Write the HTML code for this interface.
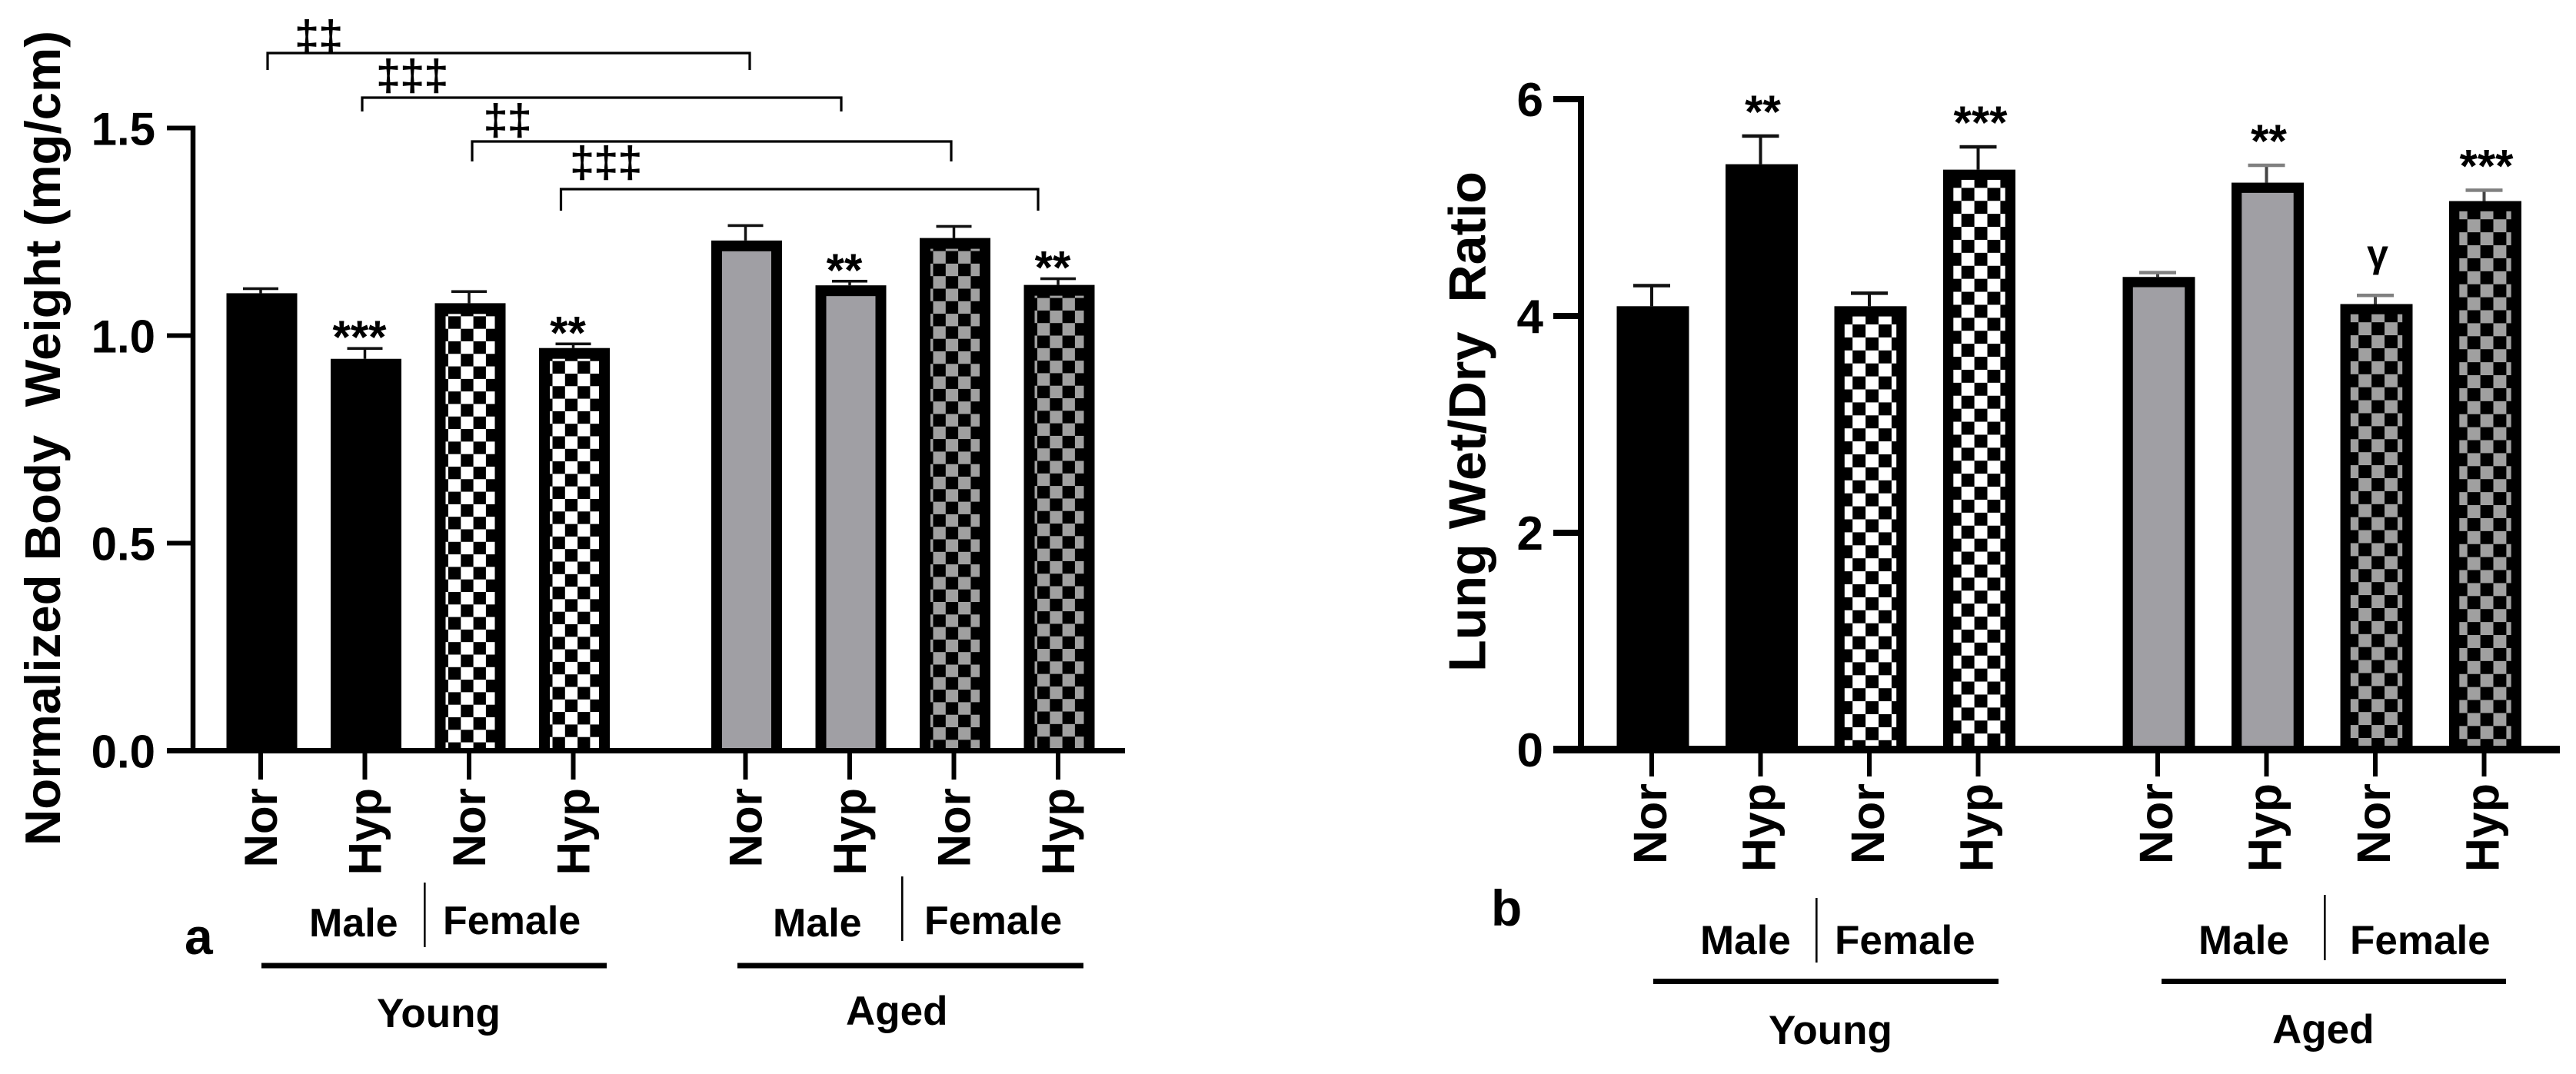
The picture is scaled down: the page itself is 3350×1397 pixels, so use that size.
<!DOCTYPE html>
<html lang="en">
<head>
<meta charset="utf-8">
<title>Normalized body weight and lung wet/dry ratio</title>
<style>
  html, body { margin: 0; padding: 0; background: #fff; }
  svg { display: block; }
  text { font-family: "Liberation Sans", "DejaVu Sans", sans-serif; fill: #000; white-space: pre; }
  .b { font-weight: 700; }
  .dag { stroke: #000; stroke-width: 1; }
</style>
</head>
<body>
<svg id="figure" xmlns="http://www.w3.org/2000/svg" width="3350" height="1397" viewBox="0 0 3350 1397">
  <defs id="patterns"></defs>
  <rect x="0" y="0" width="3350" height="1397" fill="#fff"/>

  <g id="panel-a">
    <text class="b" font-size="65" textLength="1060" lengthAdjust="spacingAndGlyphs" transform="translate(78,1100) rotate(-90)">Normalized Body  Weight (mg/cm)</text>
    <g stroke="#000" stroke-width="3.2" fill="none">
      <path d="M348 91V69H975V91"/>
      <path d="M471 145V127H1094V145"/>
      <path d="M614 210V184H1237V210"/>
      <path d="M729.5 274V246H1350V274"/>
    </g>
    <text class="dag" x="383.5" y="66" font-size="56">‡‡</text>
    <text class="dag" x="489.5" y="117" font-size="56">‡‡‡</text>
    <text class="dag" x="629" y="175" font-size="56">‡‡</text>
    <text class="dag" x="741.5" y="230" font-size="56">‡‡‡</text>

    <text class="b" x="240" y="1241" font-size="66">a</text>
    <text class="b" x="402" y="1218" font-size="52">Male</text>
    <text class="b" x="576" y="1215" font-size="52">Female</text>
    <rect x="551" y="1148" width="2.6" height="84" fill="#000"/>
    <text class="b" x="1005" y="1218" font-size="52">Male</text>
    <text class="b" x="1202" y="1215" font-size="52">Female</text>
    <rect x="1172" y="1140" width="2.6" height="84" fill="#000"/>
    <rect x="340" y="1252.5" width="449" height="7" fill="#000"/>
    <rect x="959" y="1252.5" width="450" height="7" fill="#000"/>
    <text class="b" x="490" y="1336" font-size="53">Young</text>
    <text class="b" x="1100" y="1333" font-size="53">Aged</text>
  </g>

  <g id="panel-b">
    <text class="b" font-size="68" textLength="651" lengthAdjust="spacingAndGlyphs" transform="translate(1931.5,874) rotate(-90)">Lung Wet/Dry  Ratio</text>
    <text class="b" x="1939" y="1204" font-size="66">b</text>
    <text class="b" x="2211" y="1241" font-size="53">Male</text>
    <text class="b" x="2386" y="1241" font-size="53">Female</text>
    <rect x="2361" y="1168" width="2.6" height="84" fill="#000"/>
    <text class="b" x="2859" y="1241" font-size="53">Male</text>
    <text class="b" x="3056" y="1241" font-size="53">Female</text>
    <rect x="3022" y="1164" width="2.6" height="85" fill="#000"/>
    <rect x="2150" y="1273" width="449" height="7" fill="#000"/>
    <rect x="2811" y="1273" width="448" height="7" fill="#000"/>
    <text class="b" x="2300" y="1358" font-size="53">Young</text>
    <text class="b" x="2955" y="1357" font-size="53">Aged</text>
  </g>
</svg>

<script>
// Shared categories
var categories = ['Nor', 'Hyp', 'Nor', 'Hyp', 'Nor', 'Hyp', 'Nor', 'Hyp'];
var sexes = ['Male', 'Male', 'Female', 'Female', 'Male', 'Male', 'Female', 'Female'];
var ages = ['Young', 'Young', 'Young', 'Young', 'Aged', 'Aged', 'Aged', 'Aged'];

// Panel a: normalized body weight
var aValues = [1.102, 0.944, 1.078, 0.970, 1.229, 1.121, 1.235, 1.122];
var aErrors = [0.011, 0.025, 0.028, 0.010, 0.036, 0.010, 0.028, 0.015];
var aSignificance = ['', '***', '', '**', '', '**', '', '**'];
var aTickValues = [0, 0.5, 1, 1.5];
var aTickLabels = ['0.0', '0.5', '1.0', '1.5'];

// Panel b: lung wet/dry ratio
var bValues = [4.09, 5.40, 4.09, 5.35, 4.36, 5.23, 4.11, 5.06];
var bErrors = [0.19, 0.26, 0.12, 0.21, 0.04, 0.16, 0.08, 0.10];
var bSignificance = ['', '**', '', '***', '', '**', 'γ', '***'];
var bTickValues = [0, 2, 4, 6];
var bTickLabels = ['0', '2', '4', '6'];

var NS = 'http://www.w3.org/2000/svg';
var GRAY_SOLID = '#a09fa4';
var GRAY_CHECK = '#a0a0a0';

function make(parent, tag, attrs, text) {
  var node = document.createElementNS(NS, tag);
  for (var k in attrs) node.setAttribute(k, attrs[k]);
  if (text !== undefined) node.textContent = text;
  parent.appendChild(node);
  return node;
}

function checkerPattern(id, fill, firstIsFill, x, y, cell) {
  var p = make(document.getElementById('patterns'), 'pattern', {
    id: id, patternUnits: 'userSpaceOnUse', x: x, y: y, width: cell * 2, height: cell * 2
  });
  make(p, 'rect', { x: 0, y: 0, width: cell * 2, height: cell * 2, fill: fill });
  var a = firstIsFill ? cell : 0;
  var b = firstIsFill ? 0 : cell;
  make(p, 'rect', { x: a, y: 0, width: cell, height: cell, fill: '#000' });
  make(p, 'rect', { x: b, y: cell, width: cell, height: cell, fill: '#000' });
  return 'url(#' + id + ')';
}

function drawChart(cfg) {
  var root = document.getElementById(cfg.rootId);
  var yScale = function (v) { return cfg.zeroY - v * cfg.pxPerUnit; };
  var xCenter = function (i) { return cfg.x0 + i * cfg.pitch + (ages[i] === 'Aged' ? cfg.groupGap : 0); };
  var xTick = function (i) { return xCenter(i) + cfg.tickShift; };

  cfg.values.forEach(function (value, i) {
    var left = xCenter(i) - cfg.barWidth / 2;
    var top = yScale(value);
    var capY = yScale(value + cfg.errors[i]);
    var aged = ages[i] === 'Aged';
    var female = sexes[i] === 'Female';

    var stem = make(root, 'rect', { x: xTick(i) - cfg.stemWidth / 2, y: capY, width: cfg.stemWidth, height: top - capY, fill: aged && cfg.grayCaps ? '#444' : '#111' });
    
    

    var cap = make(root, 'rect', { x: xTick(i) - cfg.capWidth / 2, y: capY - cfg.capHeight / 2, width: cfg.capWidth, height: cfg.capHeight, fill: aged && cfg.grayCaps ? '#808080' : '#111' });
    
    

    var bar = make(root, 'rect', { x: left, y: top, width: cfg.barWidth, height: cfg.zeroY - top, fill: '#000' });
    
    

    if (aged || female) {
      var innerX = left + cfg.border;
      var innerY = top + cfg.border;
      var fill = GRAY_SOLID;
      if (female) {
        fill = checkerPattern(cfg.rootId + '-check-' + i, aged ? GRAY_CHECK : '#fff', aged || cfg.leftFirstFill,
          innerX + cfg.colOffset, innerY + cfg.rowOffset, cfg.cell);
      }
      var inner = make(root, 'rect', { x: innerX, y: innerY, width: cfg.barWidth - 2 * cfg.border, height: cfg.zeroY - innerY, fill: fill });
      
      
    }

    var mark = cfg.significance[i];
    if (mark) {
      var isGamma = mark === 'γ';
      var sig = make(root, 'text', {
        x: xTick(i) + cfg.markShift,
        y: capY - cfg.markGap + (isGamma ? -6 : 20),
        'text-anchor': 'middle',
        'font-size': isGamma ? 50 : 60,
        'class': 'b'
      }, mark);
      
      
    }

    var tick = make(root, 'rect', { x: xTick(i) - 3, y: cfg.zeroY, width: 6, height: cfg.xTickEnd - cfg.zeroY, fill: '#000' });
    
    

    var label = make(root, 'text', {
      'class': 'b', 'text-anchor': 'end', 'font-size': cfg.catFont,
      transform: 'translate(' + (xTick(i) + cfg.catBaseline) + ',' + cfg.catTop + ') rotate(-90)'
    }, categories[i]);
    
    
  });

  var yAxis = make(root, 'rect', {
    x: cfg.axisX - cfg.axisWidth / 2, y: yScale(cfg.tickValues[cfg.tickValues.length - 1]) - cfg.yTickHeight / 2,
    width: cfg.axisWidth, height: cfg.zeroY - yScale(cfg.tickValues[cfg.tickValues.length - 1]) + cfg.yTickHeight / 2, fill: '#000'
  });
  
  

  var xAxis = make(root, 'rect', { x: cfg.axisLeft, y: cfg.zeroY - cfg.xAxisHeight / 2, width: cfg.axisRight - cfg.axisLeft, height: cfg.xAxisHeight, fill: '#000' });
  
  

  cfg.tickValues.forEach(function (v, i) {
    var t = make(root, 'rect', { x: cfg.axisLeft, y: yScale(v) - cfg.yTickHeight / 2, width: cfg.axisX - cfg.axisLeft, height: cfg.yTickHeight, fill: '#000' });
    
    

    var tl = make(root, 'text', { 'class': 'b', x: cfg.yLabelRight, y: yScale(v) + 22, 'text-anchor': 'end', 'font-size': cfg.yFont }, cfg.tickLabels[i]);
    
    
  });
}

drawChart({
  rootId: 'panel-a', values: aValues, errors: aErrors, significance: aSignificance,
  tickValues: aTickValues, tickLabels: aTickLabels,
  zeroY: 976.5, pxPerUnit: 540, x0: 340.5, pitch: 135.5, groupGap: 88.5, tickShift: -1.5,
  barWidth: 92, border: 14, cell: 16.3, colOffset: 3.5, rowOffset: 3, leftFirstFill: false,
  stemWidth: 3.5, capWidth: 46, capHeight: 3.6, grayCaps: false,
  markShift: -7, markGap: 14, xTickEnd: 1014, catFont: 60, catBaseline: 21, catTop: 1025,
  axisX: 251, axisWidth: 6.5, axisLeft: 217, axisRight: 1463, xAxisHeight: 7, yTickHeight: 6,
  yLabelRight: 202, yFont: 60
});

drawChart({
  rootId: 'panel-b', values: bValues, errors: bErrors, significance: bSignificance,
  tickValues: bTickValues, tickLabels: bTickLabels,
  zeroY: 975, pxPerUnit: 141, x0: 2149.5, pitch: 141.5, groupGap: 92, tickShift: -1.5,
  barWidth: 94, border: 13.3, cell: 16.9, colOffset: 10.4, rowOffset: 10.4, leftFirstFill: false,
  stemWidth: 4, capWidth: 48, capHeight: 4.5, grayCaps: true,
  markShift: 3, markGap: 31, xTickEnd: 1010, catFont: 61, catBaseline: 19, catTop: 1019,
  axisX: 2056, axisWidth: 8, axisLeft: 2020, axisRight: 3329, xAxisHeight: 10, yTickHeight: 8,
  yLabelRight: 2007, yFont: 62
});
</script>
</body>
</html>
